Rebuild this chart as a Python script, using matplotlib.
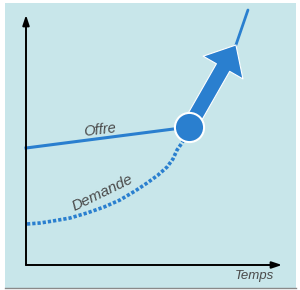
# Offre / Demande over time - schematic chart

import matplotlib.pyplot as plt
from matplotlib.patches import Rectangle

# data (time units 0..10, value units 0..10)
offre_t = [0.0, 6.37]
offre_v = [4.68, 5.52]
demande_t = [0.04, 0.55, 1.05, 1.72, 2.38, 3.05, 3.67, 4.26, 4.73, 5.16,
             5.51, 5.74, 5.90, 6.09, 6.21]
demande_v = [1.64, 1.68, 1.76, 1.88, 2.08, 2.32, 2.60, 2.96, 3.28, 3.60,
             3.92, 4.24, 4.60, 4.88, 5.08]
arrow_tip = (8.2, 8.8)
trend_end = (8.67, 10.2)

blue = "#2a7fcf"
text_grey = "#4a4a4a"

fig = plt.figure(figsize=(3.0, 2.9), dpi=100)
fig.patch.set_facecolor("white")

# light blue panel + grey bottom line
fig.patches.append(Rectangle((5 / 300, 2 / 290), 291 / 300, 285 / 290,
                             transform=fig.transFigure, facecolor="#c8e6ea",
                             edgecolor="none", zorder=-10))
fig.add_artist(plt.Line2D([5 / 300, 296 / 300], [2 / 290, 2 / 290],
                          transform=fig.transFigure, color="#8a8a8a", lw=1,
                          zorder=-9))

ax = fig.add_axes([26 / 300, 25 / 290, 256 / 300, 250 / 290])
ax.set_xlim(0, 10)
ax.set_ylim(0, 10)
ax.axis("off")

# axes arrows
ax.annotate("", xy=(0, 10), xytext=(0, 0),
            arrowprops=dict(arrowstyle="-|>,head_width=0.2,head_length=0.6",
                            color="black", lw=1.4, shrinkA=0, shrinkB=0))
ax.annotate("", xy=(10, 0), xytext=(0, 0),
            arrowprops=dict(arrowstyle="-|>,head_width=0.2,head_length=0.6",
                            color="black", lw=1.4, shrinkA=0, shrinkB=0))

# demande (dotted curve)
ax.plot(demande_t, demande_v, color=blue, lw=2.6, linestyle=(0, (0.9, 0.55)),
        solid_capstyle="butt", clip_on=False)

# offre (straight line)
ax.plot(offre_t, offre_v, color=blue, lw=2.2, clip_on=False)

# thin continuation after the big arrow
ax.plot([arrow_tip[0], trend_end[0]], [arrow_tip[1], trend_end[1]],
        color=blue, lw=2.0, solid_capstyle="round", clip_on=False)

# big arrow
ax.annotate("", xy=arrow_tip, xytext=(offre_t[-1], offre_v[-1]),
            arrowprops=dict(arrowstyle="simple,head_length=1.7,head_width=3.0,tail_width=1.0",
                            mutation_scale=11, facecolor=blue, edgecolor="white",
                            lw=0.8, shrinkA=0, shrinkB=0))

# circle at the junction
ax.plot(offre_t[-1], offre_v[-1], "o", ms=21, color=blue,
        markeredgecolor="white", markeredgewidth=1.5, clip_on=False, zorder=5)

ax.text(2.9, 5.4, "Offre", fontsize=10.5, style="italic", color=text_grey,
        family="Liberation Sans", rotation=7, ha="center", va="center")
ax.text(3.0, 2.9, "Demande", fontsize=11, style="italic", color=text_grey,
        family="Liberation Sans", rotation=26, ha="center", va="center")
ax.text(9.7, -0.42, "Temps", fontsize=9.5, style="italic", color=text_grey,
        family="Liberation Sans", ha="right", va="center")

fig.savefig("out.png", dpi=100)
